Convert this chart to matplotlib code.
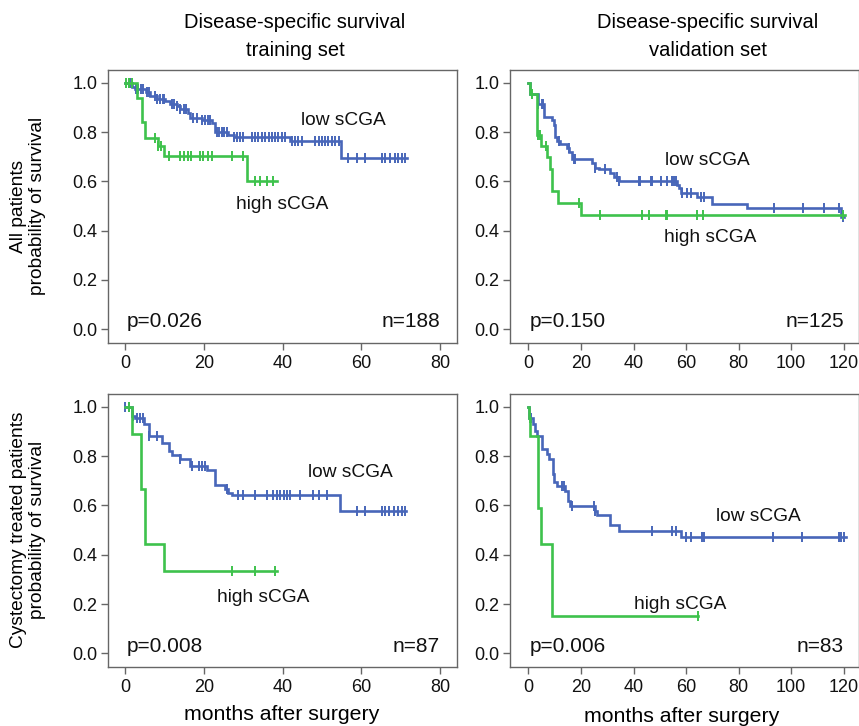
import numpy as np
import matplotlib
matplotlib.use("Agg")
import matplotlib.pyplot as plt

plt.rcParams['font.family'] = ['Liberation Sans', 'DejaVu Sans']

BLUE = '#4866b9'
GREEN = '#3ec24c'

# ---------------- data: (step times, survival) ----------------
# Panel A: training set, all patients
tl_low_t = [0, 1.6, 2.5, 5.3, 6.3, 8.0, 10.1, 11.4, 13.1, 13.9, 15.8, 16.5, 19.4, 22.0, 22.8, 26.2, 27.5, 41.9, 54.8]
tl_low_s = [1.0, 0.984, 0.974, 0.961, 0.946, 0.934, 0.927, 0.916, 0.905, 0.892, 0.878, 0.858, 0.849, 0.835, 0.801, 0.788, 0.781, 0.763, 0.696]
tl_low_end = 71.5
tl_low_cens = [0.8, 1.2, 2.7, 3.3, 3.9, 4.6, 5.4, 6.1, 7.6, 8.1, 8.8, 9.5, 9.9, 11.8, 12.4, 13.1, 13.9, 14.8, 15.4,
               17.3, 18.1, 19.4, 20.3, 20.9, 21.5, 23.2, 23.9, 24.5, 25.1, 25.8, 27.5, 28.3, 29.2, 30.0, 32.1, 33.0,
               33.8, 34.7, 35.5, 36.4, 37.2, 38.1, 38.9, 39.8, 40.6, 42.3, 43.2, 44.0, 44.8, 48.2, 49.1, 49.9, 50.8,
               51.6, 52.5, 53.3, 54.2, 56.7, 58.8, 61.0, 65.2, 66.0, 67.3, 68.6, 69.4, 70.3, 71.1]
tl_high_t = [0, 2.9, 4.1, 5.0, 8.2, 9.8, 30.9]
tl_high_s = [1.0, 0.937, 0.839, 0.774, 0.743, 0.703, 0.603]
tl_high_end = 38.5
tl_high_cens = [0.2, 1.0, 1.6, 7.6, 8.4, 9.0, 11.0, 13.9, 14.8, 15.8, 16.6, 19.0, 19.8, 20.9, 22.0, 27.0, 30.0,
                33.0, 34.3, 35.9, 37.6]

# Panel B: validation set, all patients
tr_low_t = [0, 0.65, 3.5, 6.0, 8.9, 9.6, 10.2, 10.8, 12.1, 14.6, 15.5, 16.5, 24.2, 25.5, 26.7, 31.2, 32.5, 34.4,
            56.6, 57.2, 57.9, 64.3, 70.0, 83.3, 119.0]
tr_low_s = [1.0, 0.954, 0.916, 0.86, 0.849, 0.828, 0.78, 0.762, 0.752, 0.734, 0.72, 0.689, 0.673, 0.656, 0.650,
            0.632, 0.619, 0.603, 0.585, 0.572, 0.551, 0.535, 0.508, 0.490, 0.457]
tr_low_end = 120.0
tr_low_cens = [3.8, 5.1, 5.7, 11.5, 15.3, 17.2, 17.8, 25.5, 29.3, 33.7, 34.4, 42.0, 42.6, 46.5, 47.1, 50.3, 52.8,
               54.7, 55.4, 56.0, 58.5, 60.4, 61.7, 65.5, 66.8, 93.5, 104.3, 112.3, 118.3, 119.6]
tr_high_t = [0, 0.65, 3.2, 4.8, 7.0, 8.3, 8.9, 11.2, 19.9]
tr_high_s = [1.0, 0.954, 0.788, 0.743, 0.70, 0.652, 0.562, 0.513, 0.464]
tr_high_end = 120.3
tr_high_cens = [1.3, 3.8, 4.5, 6.8, 19.1, 27.1, 43.3, 45.8, 52.2, 52.8, 64.3, 66.6, 119.8]

# Panel C: training set, cystectomy treated patients
bl_low_t = [0, 1.6, 2.5, 4.8, 5.9, 9.3, 11.0, 11.8, 13.9, 16.5, 20.7, 22.8, 25.4, 26.2, 27.0, 54.6]
bl_low_s = [1.0, 0.963, 0.954, 0.932, 0.882, 0.855, 0.821, 0.805, 0.787, 0.76, 0.742, 0.685, 0.665, 0.651, 0.641, 0.577]
bl_low_end = 71.4
bl_low_cens = [0.0, 1.0, 2.0, 2.9, 3.7, 4.4, 5.9, 8.0, 13.9, 16.9, 18.6, 19.4, 20.3, 25.8, 28.7, 29.8, 33.0, 35.9,
               37.6, 38.5, 39.3, 40.2, 41.0, 41.9, 44.4, 47.8, 49.1, 51.2, 58.8, 61.0, 65.2, 66.0, 66.9, 68.2,
               69.4, 70.3, 71.1]
bl_high_t = [0, 1.8, 3.9, 5.0, 9.8]
bl_high_s = [1.0, 0.889, 0.667, 0.444, 0.333]
bl_high_end = 38.5
bl_high_cens = [1.0, 27.0, 33.0, 38.1]

# Panel D: validation set, cystectomy treated patients
br_low_t = [0, 0.3, 1.9, 2.5, 3.2, 5.1, 7.0, 7.7, 9.3, 9.8, 10.8, 14.0, 15.0, 16.0, 25.5, 26.1, 31.2, 34.4, 57.9]
br_low_s = [1.0, 0.954, 0.93, 0.903, 0.882, 0.828, 0.807, 0.79, 0.726, 0.696, 0.678, 0.657, 0.62, 0.597, 0.576,
            0.56, 0.522, 0.498, 0.471]
br_low_end = 120.9
br_low_cens = [0.8, 12.8, 13.5, 16.5, 24.8, 25.5, 47.1, 54.7, 56.0, 59.8, 61.7, 66.2, 66.8, 92.9, 104.0, 118.3,
               119.0, 120.2]
br_high_t = [0, 0.3, 0.65, 3.8, 4.85, 8.9]
br_high_s = [1.0, 0.954, 0.882, 0.59, 0.443, 0.153]
br_high_end = 64.4
br_high_cens = [0.6, 64.4]

panels = [
    dict(low=(tl_low_t, tl_low_s, tl_low_end, tl_low_cens), high=(tl_high_t, tl_high_s, tl_high_end, tl_high_cens),
         p='p=0.026', n='n=188', low_xy=(55.3, 0.849), high_xy=(39.9, 0.504), xmax=80, xticks=[0, 20, 40, 60, 80]),
    dict(low=(tr_low_t, tr_low_s, tr_low_end, tr_low_cens), high=(tr_high_t, tr_high_s, tr_high_end, tr_high_cens),
         p='p=0.150', n='n=125', low_xy=(68.0, 0.684), high_xy=(69.3, 0.371), xmax=120,
         xticks=[0, 20, 40, 60, 80, 100, 120]),
    dict(low=(bl_low_t, bl_low_s, bl_low_end, bl_low_cens), high=(bl_high_t, bl_high_s, bl_high_end, bl_high_cens),
         p='p=0.008', n='n=87', low_xy=(57.1, 0.733), high_xy=(35.0, 0.225), xmax=80, xticks=[0, 20, 40, 60, 80]),
    dict(low=(br_low_t, br_low_s, br_low_end, br_low_cens), high=(br_high_t, br_high_s, br_high_end, br_high_cens),
         p='p=0.006', n='n=83', low_xy=(87.6, 0.556), high_xy=(57.8, 0.200), xmax=120,
         xticks=[0, 20, 40, 60, 80, 100, 120]),
]

W, H = 859, 726
fig = plt.figure(figsize=(W / 100, H / 100), dpi=100)

def rect(x0, x1, y0, y1):
    return [x0 / W, 1 - y1 / H, (x1 - x0) / W, (y1 - y0) / H]

rects = [rect(107.7, 457, 70, 342.7), rect(510, 858.5, 70, 342.7),
         rect(107.7, 457, 394, 667), rect(510, 858.5, 394, 667)]
xlims = [(-4.5, 84.3), (-7.0, 125.6), (-4.5, 84.3), (-7.0, 125.6)]

SPINE = '#666666'

def draw_curve(ax, t, s, end, cens, color):
    tt = list(t) + [end]
    ss = list(s) + [s[-1]]
    ax.step(tt, ss, where='post', color=color, lw=1.9, solid_joinstyle='miter')
    tarr = np.array(t)
    sarr = np.array(s)
    idx = np.searchsorted(tarr, np.array(cens), side='right') - 1
    ax.plot(cens, sarr[idx], ls='none', marker='|', ms=7, mew=1.4, color=color)

for i, (pd_, r) in enumerate(zip(panels, rects)):
    ax = fig.add_axes(r)
    draw_curve(ax, *pd_['low'], BLUE)
    draw_curve(ax, *pd_['high'], GREEN)
    ax.set_xlim(*xlims[i])
    ax.set_ylim(-0.055, 1.052)
    ax.set_xticks(pd_['xticks'])
    ax.set_yticks([0.0, 0.2, 0.4, 0.6, 0.8, 1.0])
    ax.set_yticklabels(['0.0', '0.2', '0.4', '0.6', '0.8', '1.0'])
    for sp in ax.spines.values():
        sp.set_color(SPINE)
        sp.set_linewidth(1.0)
    ax.tick_params(direction='out', length=5, width=1, color=SPINE, labelsize=13, labelcolor='#111111')
    ax.tick_params(axis='y', pad=2.5)
    ax.tick_params(axis='x', pad=4)
    ax.text(*pd_['low_xy'], 'low sCGA', ha='center', va='center', fontsize=13.8, color='#111111')
    ax.text(*pd_['high_xy'], 'high sCGA', ha='center', va='center', fontsize=13.8, color='#111111')
    ax.text(0.4, 0.03, pd_['p'], ha='left', va='center', fontsize=15, color='#111111')
    ax.text(pd_['xmax'], 0.03, pd_['n'], ha='right', va='center', fontsize=15, color='#111111')

# Column titles
fig.text(295 / W, 1 - 22 / H, 'Disease-specific survival', ha='center', va='center', fontsize=14.5)
fig.text(295 / W, 1 - 50 / H, 'training set', ha='center', va='center', fontsize=14.5)
fig.text(708 / W, 1 - 22 / H, 'Disease-specific survival', ha='center', va='center', fontsize=14.5)
fig.text(708 / W, 1 - 50 / H, 'validation set', ha='center', va='center', fontsize=14.5)

# Row labels
fig.text(19 / W, 1 - 206 / H, 'All patients', rotation=90, ha='center', va='center', fontsize=13.8)
fig.text(38 / W, 1 - 206 / H, 'probability of survival', rotation=90, ha='center', va='center', fontsize=13.8)
fig.text(19 / W, 1 - 530 / H, 'Cystectomy treated patients', rotation=90, ha='center', va='center', fontsize=13.8)
fig.text(38 / W, 1 - 530 / H, 'probability of survival', rotation=90, ha='center', va='center', fontsize=13.8)

# x labels
fig.text(282 / W, 1 - 714 / H, 'months after surgery', ha='center', va='center', fontsize=15.3)
fig.text(682 / W, 1 - 716 / H, 'months after surgery', ha='center', va='center', fontsize=15.3)

fig.savefig('out.png', dpi=100)
